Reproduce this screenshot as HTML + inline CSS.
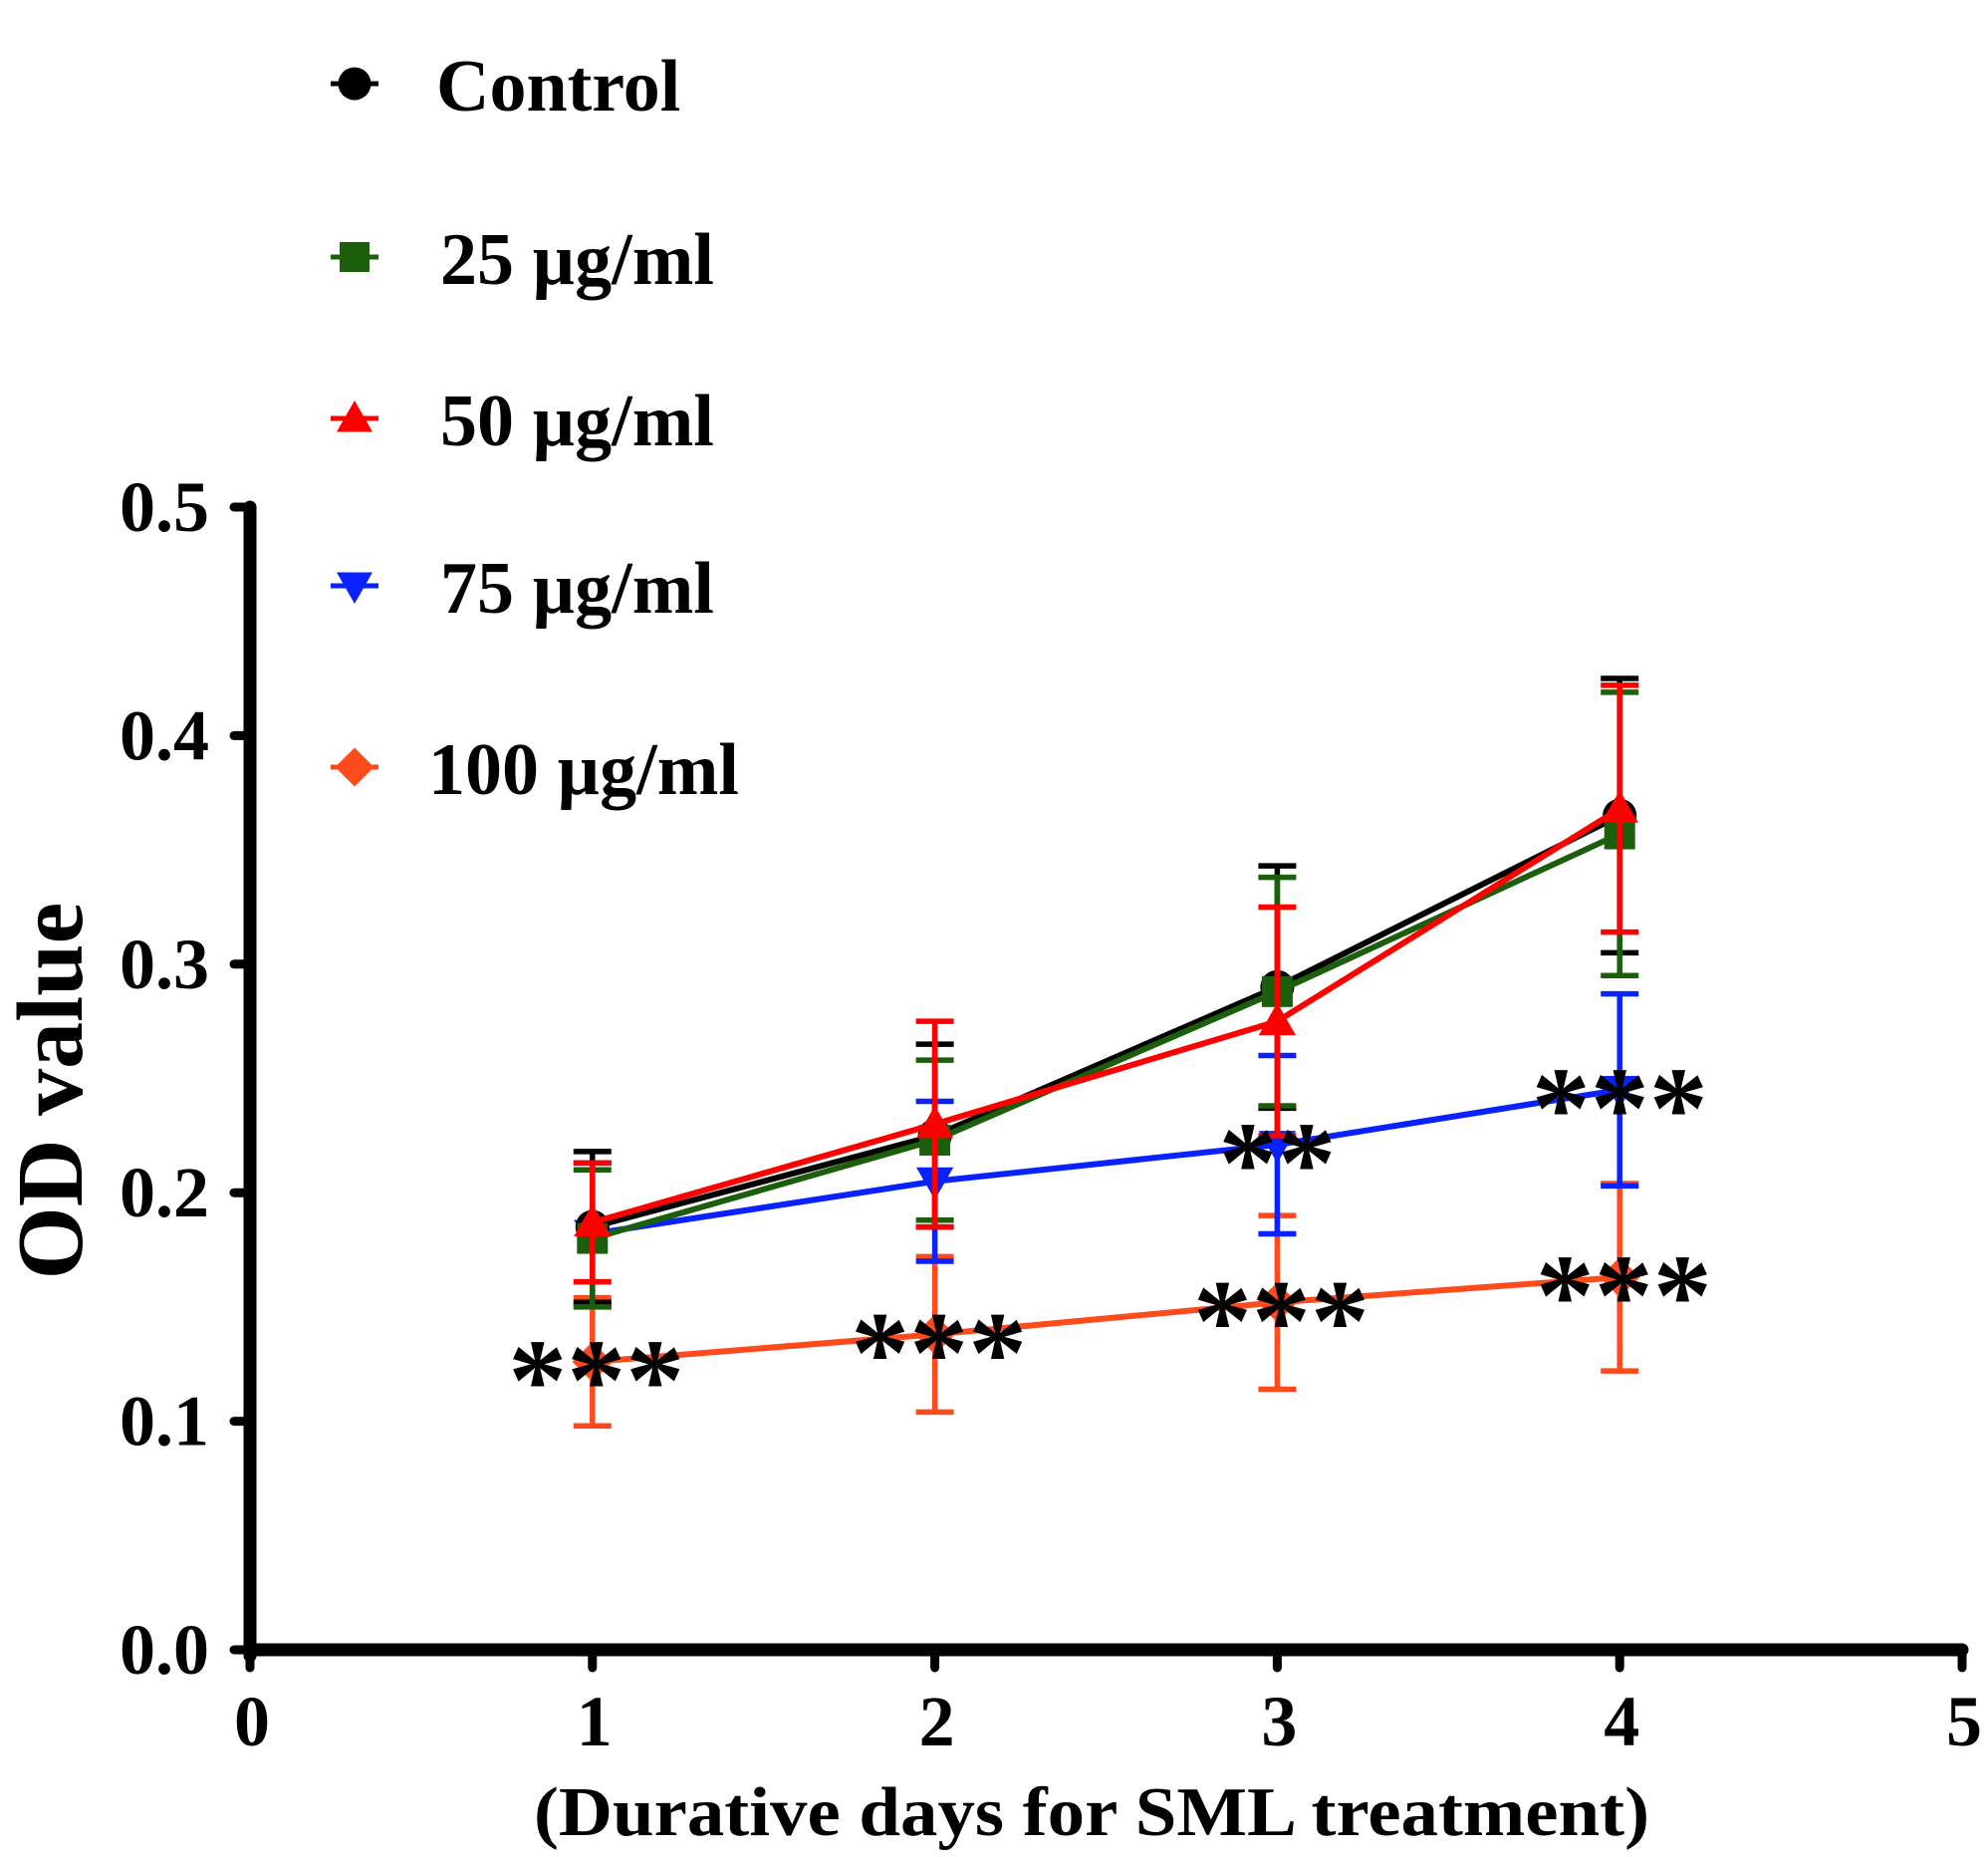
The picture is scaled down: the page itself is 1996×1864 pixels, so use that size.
<!DOCTYPE html>
<html><head><meta charset="utf-8"><style>
html,body{margin:0;padding:0;background:#fff;}
svg{display:block;font-family:"Liberation Serif",serif;font-weight:bold;}
</style></head><body>
<svg id="chart" width="1996" height="1864" viewBox="0 0 1996 1864" xmlns="http://www.w3.org/2000/svg">
<g id="legend"></g>
<g id="axes"></g>
<g id="series"></g>
<g id="stars"></g>
<text transform="translate(82,1095) rotate(-90)" text-anchor="middle" font-size="94">OD value</text>
<text x="1096" y="1842" text-anchor="middle" font-size="70" textLength="1120" lengthAdjust="spacingAndGlyphs">(Durative days for SML treatment)</text>
</svg>
<script>
const days = [1, 2, 3, 4];
const seriesNames = ["Control", "25 µg/ml", "50 µg/ml", "75 µg/ml", "100 µg/ml"];
const controlMean = [0.185, 0.225, 0.290, 0.365];
const controlErr = [0.033, 0.040, 0.053, 0.060];
const dose25Mean = [0.180, 0.223, 0.288, 0.357];
const dose25Err = [0.030, 0.035, 0.050, 0.062];
const dose50Mean = [0.187, 0.230, 0.275, 0.368];
const dose50Err = [0.026, 0.045, 0.050, 0.054];
const dose75Mean = [0.182, 0.205, 0.221, 0.245];
const dose75Err = [0.031, 0.035, 0.039, 0.042];
const dose100Mean = [0.126, 0.138, 0.152, 0.163];
const dose100Err = [0.028, 0.034, 0.038, 0.041];
const yTicks = ["0.0", "0.1", "0.2", "0.3", "0.4", "0.5"];
const xTicks = ["0", "1", "2", "3", "4", "5"];
const stars75 = ["", "", "**", "***"];
const stars100 = ["***", "***", "***", "***"];

const NS = "http://www.w3.org/2000/svg";
const X0 = 251, X1 = 1970, Y0 = 1656, Y1 = 509;
function xs(v){ return X0 + (v/5)*(X1-X0); }
function ys(v){ return Y0 - (v/0.5)*(Y0-Y1); }
function mk(tag, attrs, parent){
  const e = document.createElementNS(NS, tag);
  for (const k in attrs) e.setAttribute(k, attrs[k]);
  parent.appendChild(e); return e;
}
const colors = ["#000000", "#1b5e0c", "#ff0000", "#0a22ff", "#ff4a1c"];
const shapes = ["circle", "square", "up", "down", "diamond"];
const means = [controlMean, dose25Mean, dose50Mean, dose75Mean, dose100Mean];
const errs = [controlErr, dose25Err, dose50Err, dose75Err, dose100Err];

function marker(shape, x, y, c, parent, s){
  let e;
  if (shape === "circle") e = mk("circle", {cx:x, cy:y, r:s*0.55, fill:c}, parent);
  else if (shape === "square") e = mk("rect", {x:x-s*0.5, y:y-s*0.5, width:s, height:s, fill:c}, parent);
  else if (shape === "up") e = mk("polygon", {points:`${x},${y-s*0.6} ${x-s*0.6},${y+s*0.45} ${x+s*0.6},${y+s*0.45}`, fill:c}, parent);
  else if (shape === "down") e = mk("polygon", {points:`${x},${y+s*0.6} ${x-s*0.6},${y-s*0.45} ${x+s*0.6},${y-s*0.45}`, fill:c}, parent);
  else e = mk("polygon", {points:`${x},${y-s*0.65} ${x+s*0.65},${y} ${x},${y+s*0.65} ${x-s*0.65},${y}`, fill:c}, parent);
  return e;
}

const ax = document.getElementById("axes");
let l = mk("line", {x1:X0, y1:Y1, x2:X0, y2:Y0+6, stroke:"#000", "stroke-width":13, "stroke-linecap":"round"}, ax);


l = mk("line", {x1:X0, y1:Y0, x2:X1, y2:Y0, stroke:"#000", "stroke-width":13, "stroke-linecap":"round"}, ax);


yTicks.forEach((t, i) => {
  const v = parseFloat(t), y = ys(v);
  const tk = mk("line", {x1:X0-16, y1:y, x2:X0, y2:y, stroke:"#000", "stroke-width":9, "stroke-linecap":"round"}, ax);
  
  
  const tx = mk("text", {x:210, y:y+24, "text-anchor":"end", "font-size":72}, ax);
  tx.textContent = t;
  
  
});
xTicks.forEach((t) => {
  const x = xs(parseFloat(t));
  const tk = mk("line", {x1:x, y1:Y0, x2:x, y2:Y0+18, stroke:"#000", "stroke-width":9, "stroke-linecap":"round"}, ax);
  
  
  const tx = mk("text", {x:x+2, y:1752, "text-anchor":"middle", "font-size":72}, ax);
  tx.textContent = t;
  
  
});

const sg = document.getElementById("series");
[4,3,0,1,2].forEach(si => {
  const g = mk("g", {}, sg);
  
  
  const c = colors[si];
  days.forEach((d, i) => {
    const x = xs(d), yt = ys(means[si][i]+errs[si][i]), yb = ys(means[si][i]-errs[si][i]);
    const eb = mk("path", {d:`M${x},${yt}L${x},${yb}M${x-19},${yt}L${x+19},${yt}M${x-19},${yb}L${x+19},${yb}`, stroke:c, "stroke-width":5.5, fill:"none"}, g);
    
    
  });
  const pts = days.map((d, i) => `${xs(d)},${ys(means[si][i])}`).join(" ");
  const pl = mk("polyline", {points:pts, stroke:c, "stroke-width":6, fill:"none"}, g);
  
  
  days.forEach((d, i) => {
    const m = marker(shapes[si], xs(d), ys(means[si][i]), c, g, 31);
    
    
  });
});

const st = document.getElementById("stars");
function star(txt, x, v){
  if (!txt) return;
  const t = mk("text", {x:x, y:ys(v)+58, "text-anchor":"middle", "font-size":118, "font-weight":"bold"}, st);
  t.textContent = txt;
  
  
}
days.forEach((d, i) => {
  star(stars75[i], xs(d), dose75Mean[i]);
  star(stars100[i], xs(d) + 4, dose100Mean[i]);
});

const lg = document.getElementById("legend");
const legY = [84, 258, 420, 588, 770];
seriesNames.forEach((n, i) => {
  const g = mk("g", {}, lg);
  
  
  const y = legY[i];
  mk("line", {x1:332, y1:y, x2:380, y2:y, stroke:colors[i], "stroke-width":5}, g);
  marker(shapes[i], 356, y, colors[i], g, 30);
  const t = mk("text", {x: i===4 ? 430 : (i===0 ? 438 : 442), y:y+27, "font-size":74}, g);
  t.textContent = n;
});
</script>
</body></html>
